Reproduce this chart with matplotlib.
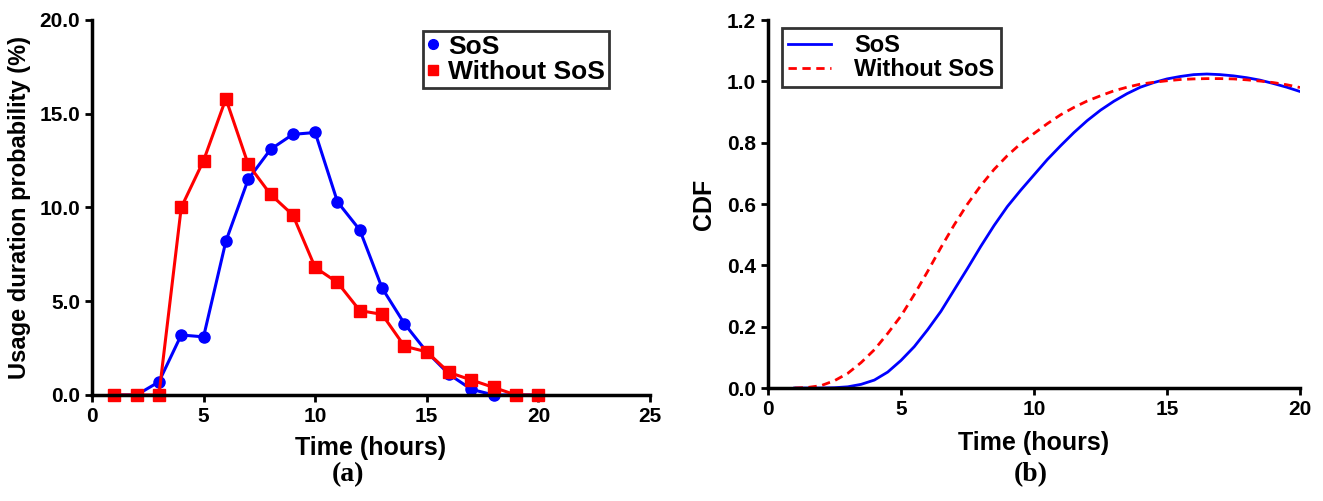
import matplotlib.pyplot as plt

plt.rcParams['font.family'] = ['Liberation Sans Narrow', 'Liberation Sans', 'DejaVu Sans']
plt.rcParams['font.weight'] = 'bold'

# (a) usage duration probability (%)
hours = list(range(1, 21))
sos_prob = [0, 0, 0.7, 3.2, 3.1, 8.2, 11.5, 13.1, 13.9, 14.0,
            10.3, 8.8, 5.7, 3.8, 2.3, 1.1, 0.3, 0, 0, 0]
nosos_prob = [0, 0, 0, 10.0, 12.5, 15.8, 12.3, 10.7, 9.6, 6.8,
              6.0, 4.5, 4.3, 2.6, 2.3, 1.2, 0.8, 0.4, 0, 0]

# (b) CDF, read every half hour
cdf_t = [1, 1.5, 2, 2.5, 3, 3.5, 4, 4.5, 5, 5.5, 6, 6.5, 7, 7.5, 8, 8.5, 9, 9.5, 10,
         10.5, 11, 11.5, 12, 12.5, 13, 13.5, 14, 14.5, 15, 15.5, 16, 16.5, 17, 17.5,
         18, 18.5, 19, 19.5, 20]
sos_cdf = [0, 0, 0, 0.001, 0.004, 0.012, 0.026, 0.052, 0.09, 0.135, 0.19, 0.25, 0.32,
           0.39, 0.462, 0.53, 0.592, 0.645, 0.695, 0.745, 0.79, 0.833, 0.872, 0.906,
           0.935, 0.96, 0.981, 0.996, 1.008, 1.016, 1.022, 1.024, 1.022, 1.018,
           1.012, 1.004, 0.993, 0.981, 0.967]
nosos_cdf = [0, 0.002, 0.008, 0.024, 0.048, 0.083, 0.125, 0.178, 0.235, 0.305, 0.38,
             0.458, 0.532, 0.60, 0.66, 0.713, 0.758, 0.797, 0.83, 0.862, 0.891, 0.915,
             0.936, 0.953, 0.969, 0.981, 0.991, 0.997, 1.002, 1.006, 1.008, 1.009,
             1.009, 1.008, 1.005, 1.001, 0.996, 0.989, 0.98]

fig = plt.figure(figsize=(13.23, 5.01), dpi=100)
ax1 = fig.add_axes([0.0695, 0.2116, 0.4218, 0.7485])
ax2 = fig.add_axes([0.5805, 0.2255, 0.4021, 0.7345])

ax1.plot(hours, sos_prob, color='#0000ff', lw=2.2, marker='o', ms=8, label='SoS', clip_on=False)
ax1.plot(hours, nosos_prob, color='#ff0000', lw=2.2, marker='s', ms=8, label='Without SoS', clip_on=False)
ax1.set_xlim(0, 25)
ax1.set_ylim(0, 20)
ax1.set_xticks([0, 5, 10, 15, 20, 25])
ax1.set_yticks([0, 5, 10, 15, 20])
ax1.set_yticklabels(['0.0', '5.0', '10.0', '15.0', '20.0'])
ax1.set_xlabel('Time (hours)', fontsize=18, fontweight='bold', labelpad=7)
ax1.set_ylabel('Usage duration probability (%)', fontsize=17, fontweight='bold', labelpad=6)
leg1 = ax1.legend(loc='upper right', bbox_to_anchor=(0.945, 1.0), fontsize=19, frameon=True,
                  fancybox=False, edgecolor='black', handlelength=0.5, handletextpad=0.3,
                  borderpad=0.15, labelspacing=0.05, borderaxespad=0.4)
for h in leg1.legend_handles:
    h.set_linestyle('none')
    h.set_markersize(7)
leg1.get_frame().set_linewidth(2)

ax2.plot(cdf_t, sos_cdf, color='#0000ff', lw=2, label='SoS')
ax2.plot(cdf_t, nosos_cdf, color='#ff0000', lw=2, ls=(0, (3, 2)), label='Without SoS')
ax2.set_xlim(0, 20)
ax2.set_ylim(0, 1.2)
ax2.set_xticks([0, 5, 10, 15, 20])
ax2.set_yticks([0, 0.2, 0.4, 0.6, 0.8, 1.0, 1.2])
ax2.set_yticklabels(['0.0', '0.2', '0.4', '0.6', '0.8', '1.0', '1.2'])
ax2.set_xlabel('Time (hours)', fontsize=18, fontweight='bold', labelpad=9)
ax2.set_ylabel('CDF', fontsize=18, fontweight='bold', labelpad=8)
leg2 = ax2.legend(loc='upper left', bbox_to_anchor=(0.005, 1.01), fontsize=17, frameon=True,
                  fancybox=False, edgecolor='black', handlelength=1.8, handletextpad=1.0,
                  borderpad=0.25, labelspacing=0.05)
leg2.get_frame().set_linewidth(2)

for ax in (ax1, ax2):
    for s in ('top', 'right'):
        ax.spines[s].set_visible(False)
    for s in ('left', 'bottom'):
        ax.spines[s].set_linewidth(2.5)
    ax.tick_params(width=2, length=5, labelsize=15)
    for lab in ax.get_xticklabels() + ax.get_yticklabels():
        lab.set_fontweight('bold')

fig.text(0.263, 0.04, '(a)', fontsize=20, fontweight='bold', family='Liberation Serif', ha='center')
fig.text(0.779, 0.04, '(b)', fontsize=20, fontweight='bold', family='Liberation Serif', ha='center')

fig.savefig('out.png', dpi=100)
